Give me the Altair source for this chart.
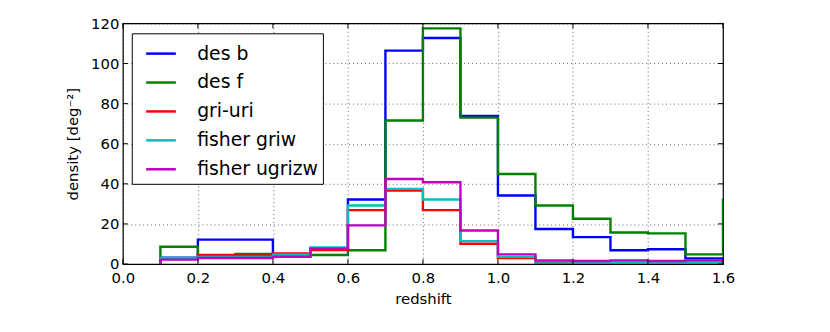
import altair as alt
import pandas as pd

# bin left edges (bin width 0.1)
bin_edges = [0.1, 0.2, 0.3, 0.4, 0.5, 0.6, 0.7, 0.8, 0.9, 1.0, 1.1, 1.2, 1.3, 1.4, 1.5, 1.6]

series_names = ["des b", "des f", "gri-uri", "fisher griw", "fisher ugrizw"]
series_colors = ["#0000ff", "#008000", "#ff0000", "#00bfbf", "#bf00bf"]

des_b = [3.2, 12.2, 12.2, 4.0, 7.4, 32.2, 106.4, 112.7, 73.8, 34.2, 17.5, 13.4, 6.9, 7.4, 2.8]
des_f = [8.6, 4.0, 5.0, 4.5, 4.5, 6.9, 71.6, 117.5, 73.0, 44.9, 29.2, 22.6, 15.7, 15.3, 4.8]
gri_uri = [2.8, 4.6, 4.3, 5.3, 7.0, 26.9, 36.6, 26.9, 10.1, 3.0, 0.8, 0.6, 0.5, 0.5, 0.5]
fisher_griw = [3.0, 3.6, 3.6, 4.7, 8.3, 29.2, 37.5, 32.2, 11.4, 3.6, 1.2, 0.8, 0.8, 0.7, 0.8]
fisher_ugrizw = [2.2, 3.0, 3.0, 3.6, 7.6, 19.3, 42.4, 40.8, 16.7, 4.8, 1.8, 1.5, 1.8, 1.5, 1.8]

# value of the next bin (beyond the axis), only visible as a rising edge at 1.6
end_values = [0.0, 32.5, 0.0, 0.0, 0.0]

x_ticks = [0.0, 0.2, 0.4, 0.6, 0.8, 1.0, 1.2, 1.4, 1.6]
y_ticks = [0, 20, 40, 60, 80, 100, 120]

all_values = [des_b, des_f, gri_uri, fisher_griw, fisher_ugrizw]

W, H = 606, 243
FONT = "DejaVu Sans"

xscale = alt.Scale(domain=[0.0, 1.6], nice=False, zero=False)
yscale = alt.Scale(domain=[0, 120], nice=False)
cscale = alt.Scale(domain=series_names, range=series_colors)

layers = []
for k, (name, vals, endv) in enumerate(zip(series_names, all_values, end_values)):
    rows = [{"z": bin_edges[0], "v": 0.0, "i": 0}]
    for j, v in enumerate(vals):
        rows.append({"z": bin_edges[j], "v": v, "i": j + 1})
    rows.append({"z": bin_edges[-1], "v": endv, "i": len(vals) + 1})
    df = pd.DataFrame(rows)
    df["series"] = name
    line = alt.Chart(df).mark_line(interpolate="step-after", strokeWidth=2.4, clip=True).encode(
        x=alt.X("z:Q", scale=xscale,
                axis=alt.Axis(values=x_ticks, format=".1f", title="redshift", grid=True,
                              ticks=False, domain=False)),
        y=alt.Y("v:Q", scale=yscale,
                axis=alt.Axis(values=y_ticks, format="d", title="density [deg\u207b\u00b2]",
                              grid=True, ticks=False, domain=False)),
        color=alt.Color("series:N", scale=cscale,
                        legend=alt.Legend(title=None, orient="none", legendX=9, legendY=10,
                                          symbolType="stroke", symbolSize=900,
                                          symbolStrokeWidth=2.5, labelFontSize=19,
                                          labelFont=FONT, rowPadding=2.2, padding=4,
                                          symbolOffset=9, labelOffset=20,
                                          strokeColor="black", fillColor="white",
                                          cornerRadius=0, labelColor="black")),
        order=alt.Order("i:Q"),
    )
    layers.append(line)

xt = pd.DataFrame({"t": x_ticks})
yt = pd.DataFrame({"t": y_ticks})
tick_len = 5
xb = alt.Chart(xt).mark_rule(color="black", strokeWidth=1).encode(
    x=alt.X("t:Q", scale=xscale), y=alt.value(H), y2=alt.value(H - tick_len))
xtop = alt.Chart(xt).mark_rule(color="black", strokeWidth=1).encode(
    x=alt.X("t:Q", scale=xscale), y=alt.value(0), y2=alt.value(tick_len))
yl = alt.Chart(yt).mark_rule(color="black", strokeWidth=1).encode(
    y=alt.Y("t:Q", scale=yscale), x=alt.value(0), x2=alt.value(tick_len))
yr = alt.Chart(yt).mark_rule(color="black", strokeWidth=1).encode(
    y=alt.Y("t:Q", scale=yscale), x=alt.value(W), x2=alt.value(W - tick_len))

chart = alt.layer(*layers, xb, xtop, yl, yr).properties(
    width=W, height=H,
    autosize=alt.AutoSizeParams(type="none"),
    padding={"left": 116, "top": 14, "right": 100, "bottom": 60},
).configure_view(
    stroke="black", strokeWidth=1.2
).configure_axis(
    labelFont=FONT, labelFontSize=15, labelColor="black",
    titleFont=FONT, titleFontSize=15, titleFontWeight="normal", titleColor="black",
    gridColor="black", gridDash=[1, 3], gridOpacity=0.75, gridWidth=0.8,
).configure_axisX(
    titlePadding=6, labelPadding=7, labelFlush=False
).configure_axisY(
    titlePadding=10, labelPadding=4, labelFlush=False
)

chart.save("out.html", embed_options={"renderer": "svg", "actions": False})
